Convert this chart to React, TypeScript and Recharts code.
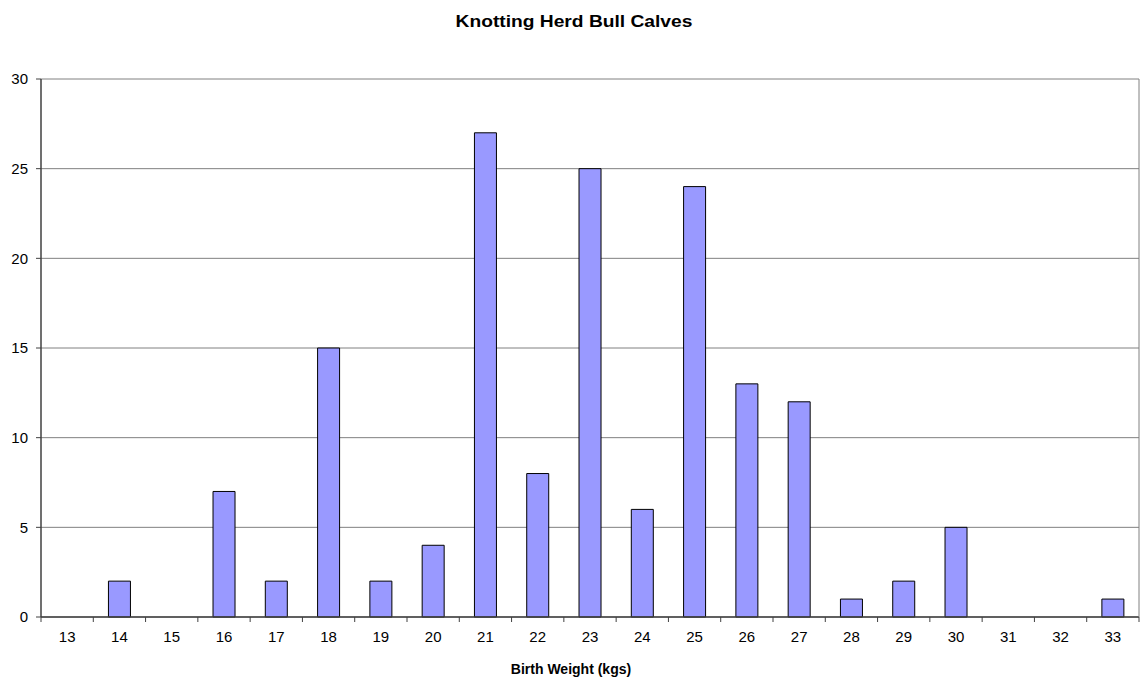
import { Bar, BarChart, CartesianGrid, XAxis, YAxis } from "recharts";

const weights = ["13", "14", "15", "16", "17", "18", "19", "20", "21", "22", "23", "24", "25", "26", "27", "28", "29", "30", "31", "32", "33"];
const calves = [0, 2, 0, 7, 2, 15, 2, 4, 27, 8, 25, 6, 24, 13, 12, 1, 2, 5, 0, 0, 1];
const yTicks = [0, 5, 10, 15, 20, 25, 30];

const data = weights.map((w, i) => ({ weight: w, count: calves[i] }));

const font = "'Liberation Sans', Arial, sans-serif";
const axisColor = "#404040";

// Excel puts category tick marks on the boundaries between categories, not at their centres
function WeightTick(props: any) {
  const { x, y, payload, index, visibleTicksCount, width } = props;
  const band = width / visibleTicksCount;
  const left = x - band / 2;
  return (
    <g>
      <line x1={left} y1={y} x2={left} y2={y + 5} stroke={axisColor} />
      {index === visibleTicksCount - 1 && (
        <line x1={left + band} y1={y} x2={left + band} y2={y + 5} stroke={axisColor} />
      )}
      <text x={x} y={y + 25} textAnchor="middle" fill="#000" fontSize={15} fontFamily={font}>
        {payload.value}
      </text>
    </g>
  );
}

export default function App() {
  return (
    <div style={{ position: "absolute", left: 0, top: 0, width: 1140, height: 682, background: "#fff", fontFamily: font }}>
      <div
        style={{
          position: "absolute",
          top: 14,
          left: 4,
          width: 1140,
          textAlign: "center",
          fontWeight: "bold",
          fontSize: 16,
          lineHeight: "16px",
          color: "#000",
          transform: "scaleX(1.2)",
          transformOrigin: "center",
        }}
      >
        Knotting Herd Bull Calves
      </div>
      <BarChart
        width={1140}
        height={682}
        data={data}
        margin={{ top: 79, right: 0, bottom: 0, left: 0 }}
        barCategoryGap="29%"
      >
        <CartesianGrid vertical={false} stroke="#808080" strokeOpacity={1} horizontalValues={yTicks} />
        <XAxis
          dataKey="weight"
          height={65}
          tickLine={false}
          tickSize={0}
          tickMargin={0}
          axisLine={{ stroke: axisColor, strokeWidth: 1.5 }}
          tick={<WeightTick />}
          interval={0}
          label={{
            value: "Birth Weight (kgs)",
            position: "insideBottom",
            offset: 8,
            dx: -19,
            fill: "#000",
            fontSize: 14,
            fontWeight: "bold",
            fontFamily: font,
          }}
        />
        <YAxis
          domain={[0, 30]}
          ticks={yTicks}
          width={41}
          axisLine={{ stroke: axisColor, strokeWidth: 1.5 }}
          tickLine={{ stroke: axisColor }}
          tickSize={5}
          tickMargin={8}
          tick={{ fill: "#000", fontSize: 15, fontFamily: font }}
        />
        <YAxis
          yAxisId="frame"
          orientation="right"
          width={1}
          tick={false}
          tickLine={false}
          axisLine={{ stroke: "#808080" }}
        />
        <Bar dataKey="count" fill="#9999FF" stroke="#000" strokeWidth={1} isAnimationActive={false} />
      </BarChart>
    </div>
  );
}
